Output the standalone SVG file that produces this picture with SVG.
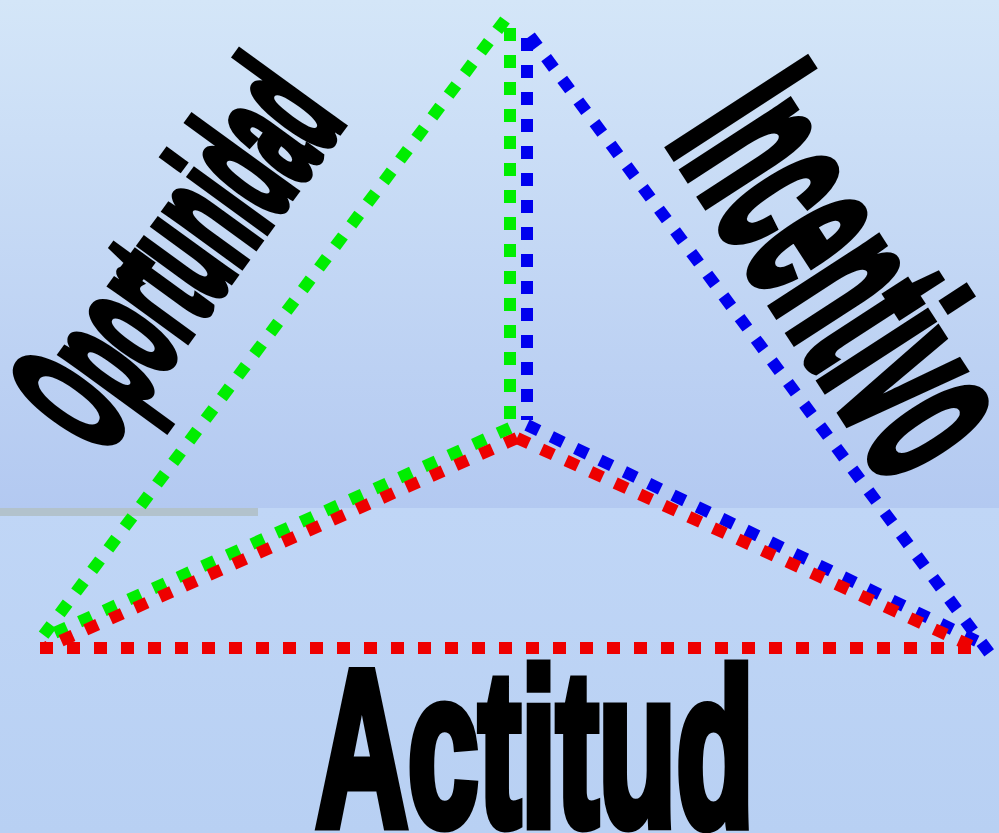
<svg xmlns="http://www.w3.org/2000/svg" width="999" height="833" viewBox="0 0 999 833">
<defs>
<linearGradient id="bgTop" x1="0" y1="0" x2="0" y2="1">
<stop offset="0" stop-color="#d4e6f8"/>
<stop offset="1" stop-color="#b3c9f1"/>
</linearGradient>
<linearGradient id="bgBot" x1="0" y1="0" x2="0" y2="1">
<stop offset="0" stop-color="#c0d6f6"/>
<stop offset="1" stop-color="#b8d0f3"/>
</linearGradient>
<style>
.dot{fill:none;stroke-width:12;stroke-dasharray:13 14;stroke-linecap:butt}
.g{stroke:#00ee00}
.b{stroke:#0000ee}
.r{stroke:#ee0000}
.lbl{font-family:"Liberation Sans",Arial,sans-serif;font-weight:bold;fill:#000;stroke:#000;stroke-linejoin:miter;stroke-miterlimit:3}
</style>
</defs>
<rect x="0" y="0" width="999" height="508" fill="url(#bgTop)"/>
<rect x="0" y="508" width="999" height="325" fill="url(#bgBot)"/>
<line x1="0" y1="512" x2="258" y2="512" stroke="#b2c2cc" stroke-width="8"/>
<g id="connectors">
<line class="dot g" x1="505" y1="20" x2="40" y2="640"/>
<line class="dot g" x1="510" y1="28" x2="510" y2="430"/>
<line class="dot g" x1="510" y1="428" x2="50" y2="635"/>
<line class="dot b" x1="530" y1="36" x2="993" y2="658"/>
<line class="dot b" x1="527" y1="38" x2="527" y2="420"/>
<line class="dot b" x1="527" y1="425" x2="985" y2="645"/>
<line class="dot r" x1="517" y1="438" x2="45" y2="648"/>
<line class="dot r" x1="517" y1="438" x2="980" y2="650"/>
<line class="dot r" x1="40" y1="648" x2="985" y2="648"/>
</g>
<g id="oportunidad">
<text class="lbl" transform="translate(101,457) rotate(-54)" x="0" y="0" font-size="172" stroke-width="10" textLength="416" lengthAdjust="spacingAndGlyphs">Oportunidad</text>
</g>
<g id="incentivo">
<text class="lbl" transform="translate(666,141) rotate(57)" x="0" y="0" font-size="235" stroke-width="10" textLength="414" lengthAdjust="spacingAndGlyphs">Incentivo</text>
</g>
<g id="actitud">
<text class="lbl" x="316" y="825" font-size="221" stroke-width="11" textLength="438" lengthAdjust="spacingAndGlyphs">Actitud</text>
</g>
</svg>
